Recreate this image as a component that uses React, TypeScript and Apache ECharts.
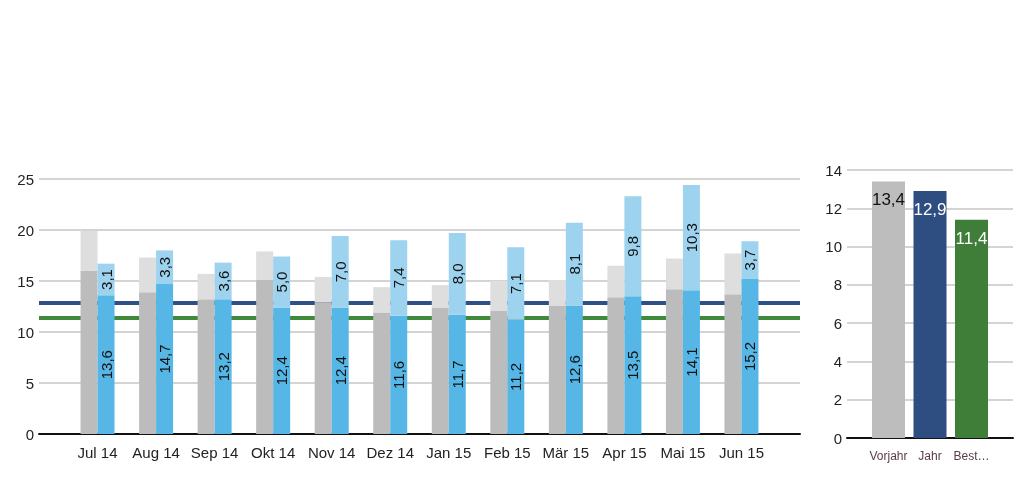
import React, { useEffect, useRef } from "react";
import * as echarts from "echarts";

const months = ["Jul 14", "Aug 14", "Sep 14", "Okt 14", "Nov 14", "Dez 14", "Jan 15", "Feb 15", "Mär 15", "Apr 15", "Mai 15", "Jun 15"];
const prevBase = [16.0, 13.9, 13.2, 15.1, 12.9, 11.9, 12.4, 12.1, 12.6, 13.4, 14.2, 13.7];
const prevAdd = [3.9, 3.4, 2.5, 2.8, 2.5, 2.5, 2.2, 2.9, 2.5, 3.1, 3.0, 4.0];
const curBase = [13.6, 14.7, 13.2, 12.4, 12.4, 11.6, 11.7, 11.2, 12.6, 13.5, 14.1, 15.2];
const curAdd = [3.1, 3.3, 3.6, 5.0, 7.0, 7.4, 8.0, 7.1, 8.1, 9.8, 10.3, 3.7];
const refJahr = 12.9;
const refBest = 11.4;

const summaryCats = ["Vorjahr", "Jahr", "Best…"];
const summaryVals = [13.4, 12.9, 11.4];

const FONT = "'Liberation Sans Narrow', 'Liberation Sans', Arial, sans-serif";
const fmt = (v: number) => v.toFixed(1).replace(".", ",");
const pad = (arr: any[]) => [null, ...arr, null];

export default function App() {
  const ref = useRef<HTMLDivElement>(null);
  useEffect(() => {
    if (!ref.current) return;
    const chart = echarts.init(ref.current, undefined, { renderer: "svg" });
    const barLabel = {
      show: true,
      position: "inside",
      rotate: 90,
      color: "#111",
      fontSize: 15,
      fontFamily: FONT,
      formatter: (p: any) => (p.value == null ? "" : fmt(p.value)),
    };
    chart.setOption({
      animation: false,
      grid: [
        { left: 39, right: 224, top: 179, bottom: 64 },
        { left: 847, right: 11, top: 170, bottom: 60 },
      ],
      xAxis: [
        {
          gridIndex: 0,
          type: "category",
          boundaryGap: false,
          data: ["", ...months, ""],
          axisLine: { lineStyle: { color: "#111", width: 2 } },
          axisTick: { show: false },
          axisLabel: { interval: 0, margin: 11, fontSize: 15, color: "#222", fontFamily: FONT },
          splitLine: { show: false },
        },
        {
          gridIndex: 1,
          type: "category",
          boundaryGap: false,
          data: ["", ...summaryCats, ""],
          axisLine: { lineStyle: { color: "#111", width: 2 } },
          axisTick: { show: false },
          axisLabel: { interval: 0, margin: 12, fontSize: 12, color: "#5a3d48", fontFamily: FONT },
          splitLine: { show: false },
        },
      ],
      yAxis: [
        {
          gridIndex: 0,
          type: "value",
          min: 0,
          max: 25,
          interval: 5,
          axisLine: { show: false },
          axisTick: { show: false },
          axisLabel: { margin: 5, fontSize: 15, color: "#222", fontFamily: FONT },
          splitLine: { lineStyle: { color: "#d4d4d4", width: 2 } },
        },
        {
          gridIndex: 1,
          type: "value",
          min: 0,
          max: 14,
          interval: 2,
          axisLine: { show: false },
          axisTick: { show: false },
          axisLabel: { margin: 5, fontSize: 15, color: "#222", fontFamily: FONT },
          splitLine: { lineStyle: { color: "#d4d4d4", width: 2 } },
        },
      ],
      series: [
        {
          type: "line",
          xAxisIndex: 0,
          yAxisIndex: 0,
          data: [],
          z: 1,
          markLine: {
            silent: true,
            z: 1,
            symbol: "none",
            label: { show: false },
            data: [
              { yAxis: refJahr, lineStyle: { color: "#2f4f85", width: 4, type: "solid" } },
              { yAxis: refBest, lineStyle: { color: "#3f8a3a", width: 4, type: "solid" } },
            ],
          },
        },
        {
          type: "bar",
          xAxisIndex: 0,
          yAxisIndex: 0,
          stack: "prev",
          barWidth: 17,
          barGap: "0%",
          z: 3,
          itemStyle: { color: "#bcbcbc" },
          data: pad(prevBase),
        },
        {
          type: "bar",
          xAxisIndex: 0,
          yAxisIndex: 0,
          stack: "prev",
          barWidth: 17,
          barGap: "0%",
          z: 3,
          itemStyle: { color: "#dedede" },
          data: pad(prevAdd),
        },
        {
          type: "bar",
          xAxisIndex: 0,
          yAxisIndex: 0,
          stack: "cur",
          barWidth: 17,
          barGap: "0%",
          z: 3,
          itemStyle: { color: "#56b6e6" },
          label: barLabel,
          data: pad(curBase),
        },
        {
          type: "bar",
          xAxisIndex: 0,
          yAxisIndex: 0,
          stack: "cur",
          barWidth: 17,
          barGap: "0%",
          z: 3,
          itemStyle: { color: "#9dd3ef" },
          label: barLabel,
          data: pad(curAdd),
        },
        {
          type: "bar",
          xAxisIndex: 1,
          yAxisIndex: 1,
          barWidth: 33,
          z: 3,
          label: {
            show: true,
            position: "insideTop",
            distance: 10,
            fontSize: 17,
            fontFamily: FONT,
            formatter: (p: any) => (p.value == null ? "" : fmt(p.value)),
          },
          data: pad(
            summaryVals.map((v, i) => ({
              value: v,
              itemStyle: { color: ["#bdbdbd", "#2e4d80", "#3e7e38"][i] },
              label: { color: i === 0 ? "#111" : "#fff" },
            }))
          ),
        },
      ],
    });
    return () => chart.dispose();
  }, []);
  return <div ref={ref} style={{ position: "fixed", left: 0, top: 0, width: 1024, height: 498 }} />;
}
